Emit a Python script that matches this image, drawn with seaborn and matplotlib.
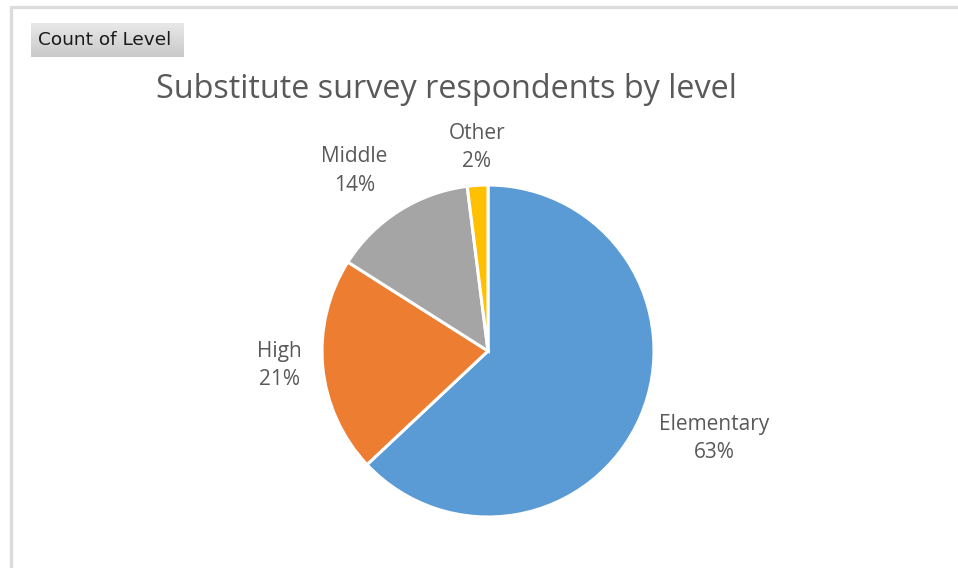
import numpy as np
import matplotlib
matplotlib.use("Agg")
import matplotlib.pyplot as plt
from matplotlib.lines import Line2D
import seaborn as sns

# Survey respondents by school level (percent of responses)
levels = ["Elementary", "High", "Middle", "Other"]
shares = [63, 21, 14, 2]
colors = ["#5B9BD5", "#ED7D31", "#A5A5A5", "#FFC000"]
title = "Substitute survey respondents by level"
field_button = "Count of Level"

sns.set_theme(style="white")
plt.rcParams["font.family"] = ["Open Sans", "DejaVu Sans"]

W, H = 958, 568
fig = plt.figure(figsize=(W / 100, H / 100), dpi=100)
fig.patch.set_facecolor("white")

def fx(px):
    return px / W

def fy(py):
    return 1 - py / H

# Frame lines along the top and left of the chart area
fig.add_artist(Line2D([fx(11), 1], [fy(7), fy(7)], color="#dcdcdc", lw=2.4))
fig.add_artist(Line2D([fx(11), fx(11)], [fy(7), 0], color="#dcdcdc", lw=2.4))

# Pivot field button
bx0, by0, bw, bh = 31, 23, 153, 34
bax = fig.add_axes([fx(bx0), fy(by0 + bh), fx(bw), bh / H])
grad = np.linspace(0, 1, 50).reshape(-1, 1)
bax.imshow(grad, aspect="auto", cmap=matplotlib.colors.LinearSegmentedColormap.from_list(
    "btn", ["#e8e8e8", "#c9c9c9"]), extent=[0, 1, 0, 1], origin="upper")
bax.set_xticks([]); bax.set_yticks([])
for s in bax.spines.values():
    s.set_visible(False)
bax.text(0.48, 0.5, field_button, ha="center", va="center", fontsize=13.3,
         color="#1a1a1a", family="DejaVu Sans", transform=bax.transAxes)

# Title
fig.text(fx(446), fy(90), title, ha="center", va="center", fontsize=23.3,
         color="#595959")

# Pie
cx, cy, r = 488, 351, 166
ax = fig.add_axes([fx(cx - r), fy(cy + r), fx(2 * r), 2 * r / H])
wedges, _ = ax.pie(shares, colors=colors, startangle=90, counterclock=False,
                   wedgeprops=dict(edgecolor="white", linewidth=2.2))
ax.set_xlim(-1, 1)
ax.set_ylim(-1, 1)
ax.set_aspect("equal")
ax.axis("off")

# Data label placement: radial distance and angular nudge per slice
label_dist = [1.46, 1.26, 1.35, 1.23]
label_nudge = [2.2, -1.5, 4.2, -0.5]
for w, name, val, d, nudge in zip(wedges, levels, shares, label_dist, label_nudge):
    th = np.deg2rad((w.theta1 + w.theta2) / 2 + nudge)
    ax.text(d * np.cos(th), d * np.sin(th), f"{name}\n{val}%", ha="center",
            va="center", fontsize=15, color="#595959", linespacing=1.45,
            clip_on=False)

fig.savefig("out.png", dpi=100, facecolor="white")
